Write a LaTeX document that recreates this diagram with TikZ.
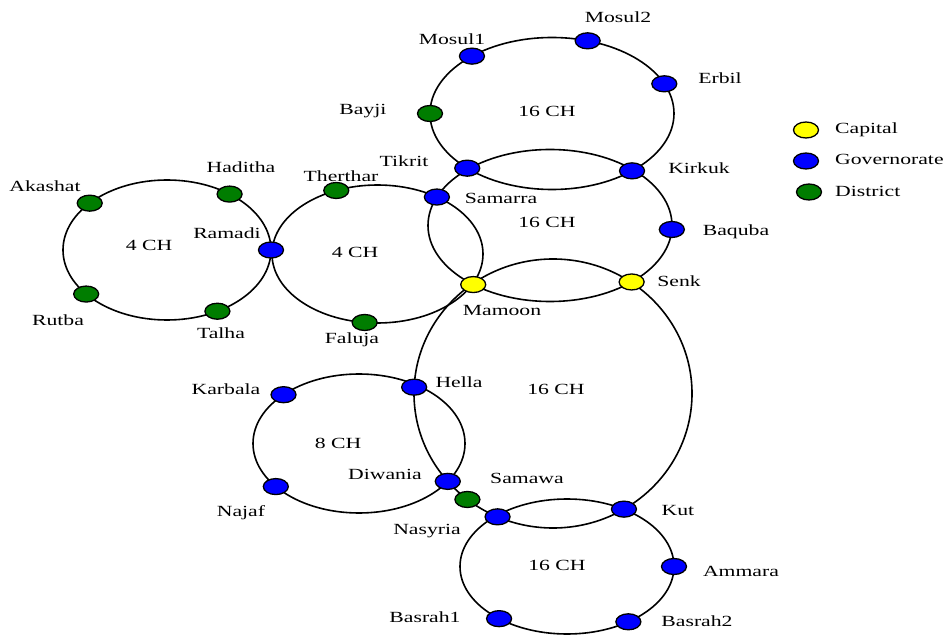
\documentclass[tikz,border=0pt]{standalone}
\usepackage{fontspec}
\setmainfont{Liberation Serif}[FakeStretch=1.4]
\usetikzlibrary{calc,shapes.geometric}
\definecolor{govblue}{RGB}{0,0,255}
\definecolor{distgreen}{RGB}{0,125,0}
\definecolor{capyellow}{RGB}{255,255,0}
\begin{document}
\begin{tikzpicture}[x=1pt,y=-1pt,
  ring/.style={draw=black, line width=1.6pt},
  city/.style={shape=ellipse, draw=black, line width=1.3pt, minimum width=25pt, minimum height=16pt, inner sep=0pt},
  capital/.style={city, fill=capyellow},
  gov/.style={city, fill=govblue},
  dist/.style={city, fill=distgreen},
  lbl/.style={font=\fontsize{15.5pt}{18pt}\selectfont, anchor=base, inner sep=0pt},
  legend/.style={lbl, anchor=base west}]
\useasboundingbox (0,0) rectangle (948,636);

% ring centres
\coordinate (cN) at (552,113.5);   % north ring
\coordinate (cM) at (550,225.5);   % middle ring
\coordinate (cW) at (377.5,254);   % west 4 CH ring
\coordinate (cF) at (167,250);     % far west 4 CH ring
\coordinate (cC) at (553,393.5);   % central ring
\coordinate (cK) at (359,443.5);   % 8 CH ring
\coordinate (cS) at (567,566.5);   % south ring

% rings
\draw[ring] (cN) ellipse [x radius=122, y radius=76];
\draw[ring] (cM) ellipse [x radius=122, y radius=76];
\draw[ring] (cW) ellipse [x radius=105.5, y radius=69];
\draw[ring] (cF) ellipse [x radius=104, y radius=70];
\draw[ring] (cC) ellipse [x radius=139, y radius=134.5];
\draw[ring] (cK) ellipse [x radius=106, y radius=69.5];
\draw[ring] (cS) ellipse [x radius=107, y radius=67.5];

% stations
\node[gov]  (mosul1)  at ($(cN)+(-131:122 and 76)$) {};
\node[gov]  (mosul2)  at ($(cN)+(-73:122 and 76)$) {};
\node[gov]  (erbil)   at ($(cN)+(-23:122 and 76)$) {};
\node[dist] (bayji)   at ($(cN)+(180:122 and 76)$) {};
\node[gov]  (tikrit)  at ($(cN)+(134:122 and 76)$) {};
\node[gov]  (kirkuk)  at ($(cN)+(49:122 and 76)$) {};

\node[gov]  (samarra) at ($(cM)+(-158:122 and 76)$) {};
\node[gov]  (baquba)  at ($(cM)+(3:122 and 76)$) {};
\node[capital] (senk)   at ($(cM)+(48:122 and 76)$) {};
\node[capital] (mamoon) at ($(cM)+(129:122 and 76)$) {};

\node[dist] (therthar) at ($(cW)+(-113:105.5 and 69)$) {};
\node[dist] (faluja)   at ($(cW)+(97:105.5 and 69)$) {};

\node[dist] (akashat) at ($(cF)+(-138:104 and 70)$) {};
\node[dist] (haditha) at ($(cF)+(-53:104 and 70)$) {};
\node[gov]  (ramadi)  at ($(cF)+(0:104 and 70)$) {};
\node[dist] (talha)   at ($(cF)+(61:104 and 70)$) {};
\node[dist] (rutba)   at ($(cF)+(141:104 and 70)$) {};

\node[gov]  (hella)   at ($(cC)+(-177.3:139 and 134.5)$) {};
\node[gov]  (diwania) at ($(cC)+(139.2:139 and 134.5)$) {};
\node[dist] (samawa)  at ($(cC)+(128:139 and 134.5)$) {};
\node[gov]  (nasyria) at ($(cC)+(113.5:139 and 134.5)$) {};
\node[gov]  (kut)     at ($(cC)+(59.3:139 and 134.5)$) {};

\node[gov]  (karbala) at ($(cK)+(-135.4:106 and 69.5)$) {};
\node[gov]  (najaf)   at ($(cK)+(141.7:106 and 69.5)$) {};

\node[gov]  (ammara)  at ($(cS)+(0:107 and 67.5)$) {};
\node[gov]  (basrah2) at ($(cS)+(55:107 and 67.5)$) {};
\node[gov]  (basrah1) at ($(cS)+(129.4:107 and 67.5)$) {};

% channel counts
\node[lbl] (chN) at (547,117) {16 CH};
\node[lbl] (chM) at (547,228) {16 CH};
\node[lbl] (chC) at (556,394) {16 CH};
\node[lbl] (chS) at (557,570) {16 CH};
\node[lbl] (chK) at (338,448) {8 CH};
\node[lbl] (chF) at (149,251) {4 CH};
\node[lbl] (chW) at (355,258) {4 CH};

% station names
\node[lbl] (tMosul1)  at (452,45)  {Mosul1};
\node[lbl] (tMosul2)  at (618,23)  {Mosul2};
\node[lbl] (tErbil)   at (720,84)  {Erbil};
\node[lbl] (tBayji)   at (363,115) {Bayji};
\node[lbl] (tTikrit)  at (404,167) {Tikrit};
\node[lbl] (tKirkuk)  at (699,174) {Kirkuk};
\node[lbl] (tSamarra) at (501,204) {Samarra};
\node[lbl] (tBaquba)  at (736,236) {Baquba};
\node[lbl] (tSenk)    at (679,287) {Senk};
\node[lbl] (tMamoon)  at (502,316) {Mamoon};
\node[lbl] (tTherthar) at (341,182) {Therthar};
\node[lbl] (tHaditha) at (241,173) {Haditha};
\node[lbl] (tAkashat) at (45,192)  {Akashat};
\node[lbl] (tRamadi)  at (227,239) {Ramadi};
\node[lbl] (tRutba)   at (58,326)  {Rutba};
\node[lbl] (tTalha)   at (221,339) {Talha};
\node[lbl] (tFaluja)  at (352,344) {Faluja};
\node[lbl] (tKarbala) at (226,394) {Karbala};
\node[lbl] (tHella)   at (459,388) {Hella};
\node[lbl] (tDiwania) at (385,479) {Diwania};
\node[lbl] (tNajaf)   at (241,516) {Najaf};
\node[lbl] (tSamawa)  at (527,483) {Samawa};
\node[lbl] (tNasyria) at (427,534) {Nasyria};
\node[lbl] (tKut)     at (678,515) {Kut};
\node[lbl] (tAmmara)  at (741,576) {Ammara};
\node[lbl] (tBasrah1) at (425,622) {Basrah1};
\node[lbl] (tBasrah2) at (697,626) {Basrah2};

% legend
\node[capital] (keyCap) at (806,130) {};
\node[gov]     (keyGov) at (806,161) {};
\node[dist]    (keyDist) at (809,192) {};
\node[legend] (tCap)  at (835,134) {Capital};
\node[legend] (tGov)  at (835,165) {Governorate};
\node[legend] (tDist) at (835,197) {District};
\end{tikzpicture}
\end{document}
